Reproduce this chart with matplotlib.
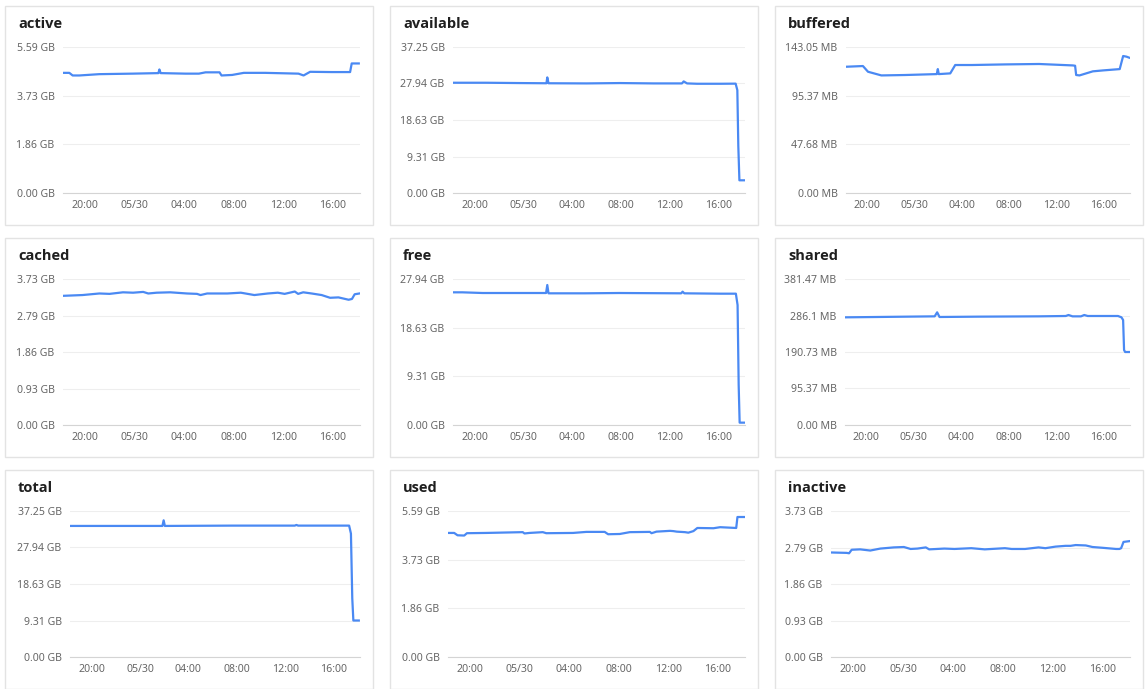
import matplotlib
matplotlib.use("Agg")
import matplotlib.pyplot as plt
from matplotlib.patches import Rectangle

plt.rcParams["font.family"] = ["Noto Sans", "DejaVu Sans"]

# time in hours since 05/29 00:00
x_ticks = [20, 24, 28, 32, 36, 40]
x_tick_labels = ["20:00", "05/30", "04:00", "08:00", "12:00", "16:00"]
x_range = (18.2, 42.2)

# active (GB)
active_t = [18.2, 18.71, 18.98, 19.52, 21.13, 23.81, 25.91, 25.99, 26.09, 28.11, 29.18, 29.72,
            30.85, 31.01, 31.87, 32.81, 34.55, 37.23, 37.64, 38.17, 39.92, 41.40, 41.53, 42.1]
active_v = [4.60, 4.60, 4.50, 4.50, 4.55, 4.57, 4.59, 4.73, 4.59, 4.57, 4.57, 4.62,
            4.62, 4.50, 4.52, 4.60, 4.60, 4.57, 4.50, 4.64, 4.63, 4.63, 4.96, 4.96]
active_ticks = [0, 1.86, 3.73, 5.59]
active_labels = ["0.00 GB", "1.86 GB", "3.73 GB", "5.59 GB"]

# available (GB)
available_t = [18.2, 20.91, 23.66, 25.88, 25.95, 26.05, 29.17, 31.93, 34.68, 37.02, 37.16, 37.44,
               38.26, 40.19, 41.43, 41.57, 41.65, 41.74, 42.15]
available_v = [28.13, 28.13, 28.05, 28.0, 29.49, 28.0, 27.96, 28.05, 27.96, 27.96, 28.47, 27.96,
               27.87, 27.87, 27.90, 26.25, 12.0, 3.24, 3.24]
available_ticks = [0, 9.31, 18.63, 27.94, 37.25]
available_labels = ["0.00 GB", "9.31 GB", "18.63 GB", "27.94 GB", "37.25 GB"]

# buffered (MB)
buffered_t = [18.2, 19.63, 20.06, 21.19, 23.18, 25.87, 25.96, 26.04, 27.01, 27.43, 28.85, 31.69,
              34.52, 37.36, 37.56, 37.65, 37.93, 39.06, 39.91, 41.33, 41.62, 41.90, 42.13]
buffered_v = [123.7, 124.4, 118.8, 115.2, 115.6, 116.5, 121.4, 116.5, 117.2, 125.4, 125.4, 126.0,
              126.4, 125.0, 124.7, 115.6, 115.2, 119.2, 120.1, 121.4, 134.2, 133.6, 132.6]
buffered_ticks = [0, 47.68, 95.37, 143.05]
buffered_labels = ["0.00 MB", "47.68 MB", "95.37 MB", "143.05 MB"]

# cached (GB)
cached_t = [18.2, 19.78, 21.14, 21.96, 23.05, 23.86, 24.68, 25.09, 25.77, 26.86, 28.22, 29.03,
            29.31, 29.85, 31.48, 32.57, 33.12, 33.66, 34.75, 35.56, 36.11, 36.93, 37.20, 37.61,
            38.29, 39.10, 39.78, 40.46, 41.28, 41.55, 41.77, 42.15]
cached_v = [3.30, 3.32, 3.36, 3.35, 3.39, 3.38, 3.40, 3.36, 3.38, 3.39, 3.36, 3.35,
            3.32, 3.36, 3.36, 3.38, 3.35, 3.32, 3.36, 3.38, 3.35, 3.41, 3.35, 3.39,
            3.36, 3.32, 3.25, 3.26, 3.20, 3.22, 3.34, 3.36]
cached_ticks = [0, 0.93, 1.86, 2.79, 3.73]
cached_labels = ["0.00 GB", "0.93 GB", "1.86 GB", "2.79 GB", "3.73 GB"]

# free (GB)
free_t = [18.2, 18.97, 20.64, 25.85, 25.95, 26.05, 29.02, 31.82, 36.96, 37.07, 37.21, 40.20,
          41.45, 41.59, 41.68, 41.76, 42.15]
free_v = [25.39, 25.39, 25.26, 25.26, 26.79, 25.20, 25.20, 25.26, 25.20, 25.52, 25.20, 25.13,
          25.13, 22.96, 7.65, 0.45, 0.45]
free_ticks = [0, 9.31, 18.63, 27.94]
free_labels = ["0.00 GB", "9.31 GB", "18.63 GB", "27.94 GB"]

# shared (MB)
shared_t = [18.2, 20.91, 25.75, 25.96, 26.16, 29.42, 34.52, 36.79, 37.02, 37.36, 38.07, 38.35,
            38.64, 41.19, 41.48, 41.62, 41.70, 41.79, 42.15]
shared_v = [281.3, 282.2, 283.9, 294.4, 282.2, 283.1, 283.9, 284.8, 287.4, 283.9, 283.9, 287.4,
            284.8, 284.8, 281.3, 274.3, 196.0, 190.7, 190.7]
shared_ticks = [0, 95.37, 190.73, 286.1, 381.47]
shared_labels = ["0.00 MB", "95.37 MB", "190.73 MB", "286.1 MB", "381.47 MB"]

# total (GB)
total_t = [18.2, 25.85, 25.95, 26.05, 31.61, 36.80, 36.94, 37.08, 39.54, 41.30, 41.45, 41.56,
           41.65, 42.1]
total_v = [33.44, 33.44, 34.88, 33.44, 33.52, 33.52, 33.69, 33.52, 33.52, 33.52, 31.49, 14.98,
           9.31, 9.31]
total_ticks = [0, 9.31, 18.63, 27.94, 37.25]
total_labels = ["0.00 GB", "9.31 GB", "18.63 GB", "27.94 GB", "37.25 GB"]

# used (GB)
used_t = [18.24, 18.70, 18.97, 19.51, 19.73, 21.27, 24.24, 24.38, 24.78, 25.86, 26.14, 28.30,
          29.38, 30.86, 31.14, 32.08, 32.89, 34.51, 34.65, 35.05, 36.14, 36.41, 36.68, 37.35,
          37.62, 38.03, 38.35, 39.65, 40.19, 41.49, 41.59, 42.14]
used_v = [4.75, 4.75, 4.66, 4.65, 4.74, 4.75, 4.78, 4.73, 4.75, 4.78, 4.74, 4.75,
          4.79, 4.79, 4.70, 4.71, 4.78, 4.79, 4.74, 4.80, 4.83, 4.82, 4.80, 4.78,
          4.76, 4.82, 4.94, 4.93, 4.97, 4.94, 5.36, 5.36]
used_ticks = [0, 1.86, 3.73, 5.59]
used_labels = ["0.00 GB", "1.86 GB", "3.73 GB", "5.59 GB"]

# inactive (GB)
inactive_t = [18.24, 19.46, 19.65, 19.86, 20.54, 21.35, 22.16, 23.24, 24.05, 24.59, 25.14, 25.81,
              26.08, 27.30, 28.11, 29.46, 30.54, 32.16, 32.70, 33.78, 34.86, 35.41, 36.22, 37.03,
              37.43, 37.84, 38.65, 39.19, 40.00, 41.08, 41.35, 41.49, 41.68, 42.16]
inactive_v = [2.67, 2.66, 2.65, 2.74, 2.75, 2.72, 2.77, 2.80, 2.81, 2.76, 2.77, 2.80,
              2.75, 2.77, 2.76, 2.78, 2.75, 2.78, 2.76, 2.76, 2.80, 2.78, 2.82, 2.84,
              2.84, 2.86, 2.85, 2.81, 2.79, 2.76, 2.76, 2.78, 2.94, 2.96]
inactive_ticks = [0, 0.93, 1.86, 2.79, 3.73]
inactive_labels = ["0.00 GB", "0.93 GB", "1.86 GB", "2.79 GB", "3.73 GB"]

panels = [
    ("active", active_t, active_v, active_ticks, active_labels),
    ("available", available_t, available_v, available_ticks, available_labels),
    ("buffered", buffered_t, buffered_v, buffered_ticks, buffered_labels),
    ("cached", cached_t, cached_v, cached_ticks, cached_labels),
    ("free", free_t, free_v, free_ticks, free_labels),
    ("shared", shared_t, shared_v, shared_ticks, shared_labels),
    ("total", total_t, total_v, total_ticks, total_labels),
    ("used", used_t, used_v, used_ticks, used_labels),
    ("inactive", inactive_t, inactive_v, inactive_ticks, inactive_labels),
]

W, H = 1147, 689
fig = plt.figure(figsize=(W / 100, H / 100), dpi=100)

box_x = [5, 390, 775]
box_y = [6, 238, 470]
box_w, box_h = 368, 219
# left offset of plot area inside each box (depends on label width)
plot_left = [58, 63, 71, 58, 63, 70, 65, 58, 56]
plot_right = 355

for i, (name, t, v, ticks, labels) in enumerate(panels):
    bx = box_x[i % 3]
    by = box_y[i // 3]

    fig.add_artist(Rectangle((bx / W, 1 - (by + box_h) / H), box_w / W, box_h / H,
                             transform=fig.transFigure, fill=False,
                             edgecolor="#e3e3e3", linewidth=1))
    fig.text((bx + 13) / W, 1 - (by + 18) / H, name, fontsize=10.5, fontweight="bold",
             family=["Open Sans", "DejaVu Sans"], color="#1f1f1f", va="center", ha="left")

    left = bx + plot_left[i]
    top = by + 41
    bottom = by + 187
    ax = fig.add_axes([left / W, 1 - bottom / H, (bx + plot_right - left) / W, (bottom - top) / H])
    ax.plot(t, v, color="#4a89f3", linewidth=1.6, solid_joinstyle="round")
    ax.set_xlim(*x_range)
    ax.set_ylim(0, ticks[-1])
    ax.set_yticks(ticks)
    ax.set_yticklabels(labels)
    ax.set_xticks(x_ticks)
    ax.set_xticklabels(x_tick_labels)
    ax.grid(axis="y", color="#eeeeee", linewidth=0.8)
    ax.set_axisbelow(True)
    for s in ["top", "right", "left"]:
        ax.spines[s].set_visible(False)
    ax.spines["bottom"].set_color("#d4d4d4")
    ax.tick_params(axis="both", length=0, labelsize=7.6, colors="#666666")
    ax.tick_params(axis="y", pad=6)
    ax.tick_params(axis="x", pad=5)

fig.savefig("out.png", dpi=100)
